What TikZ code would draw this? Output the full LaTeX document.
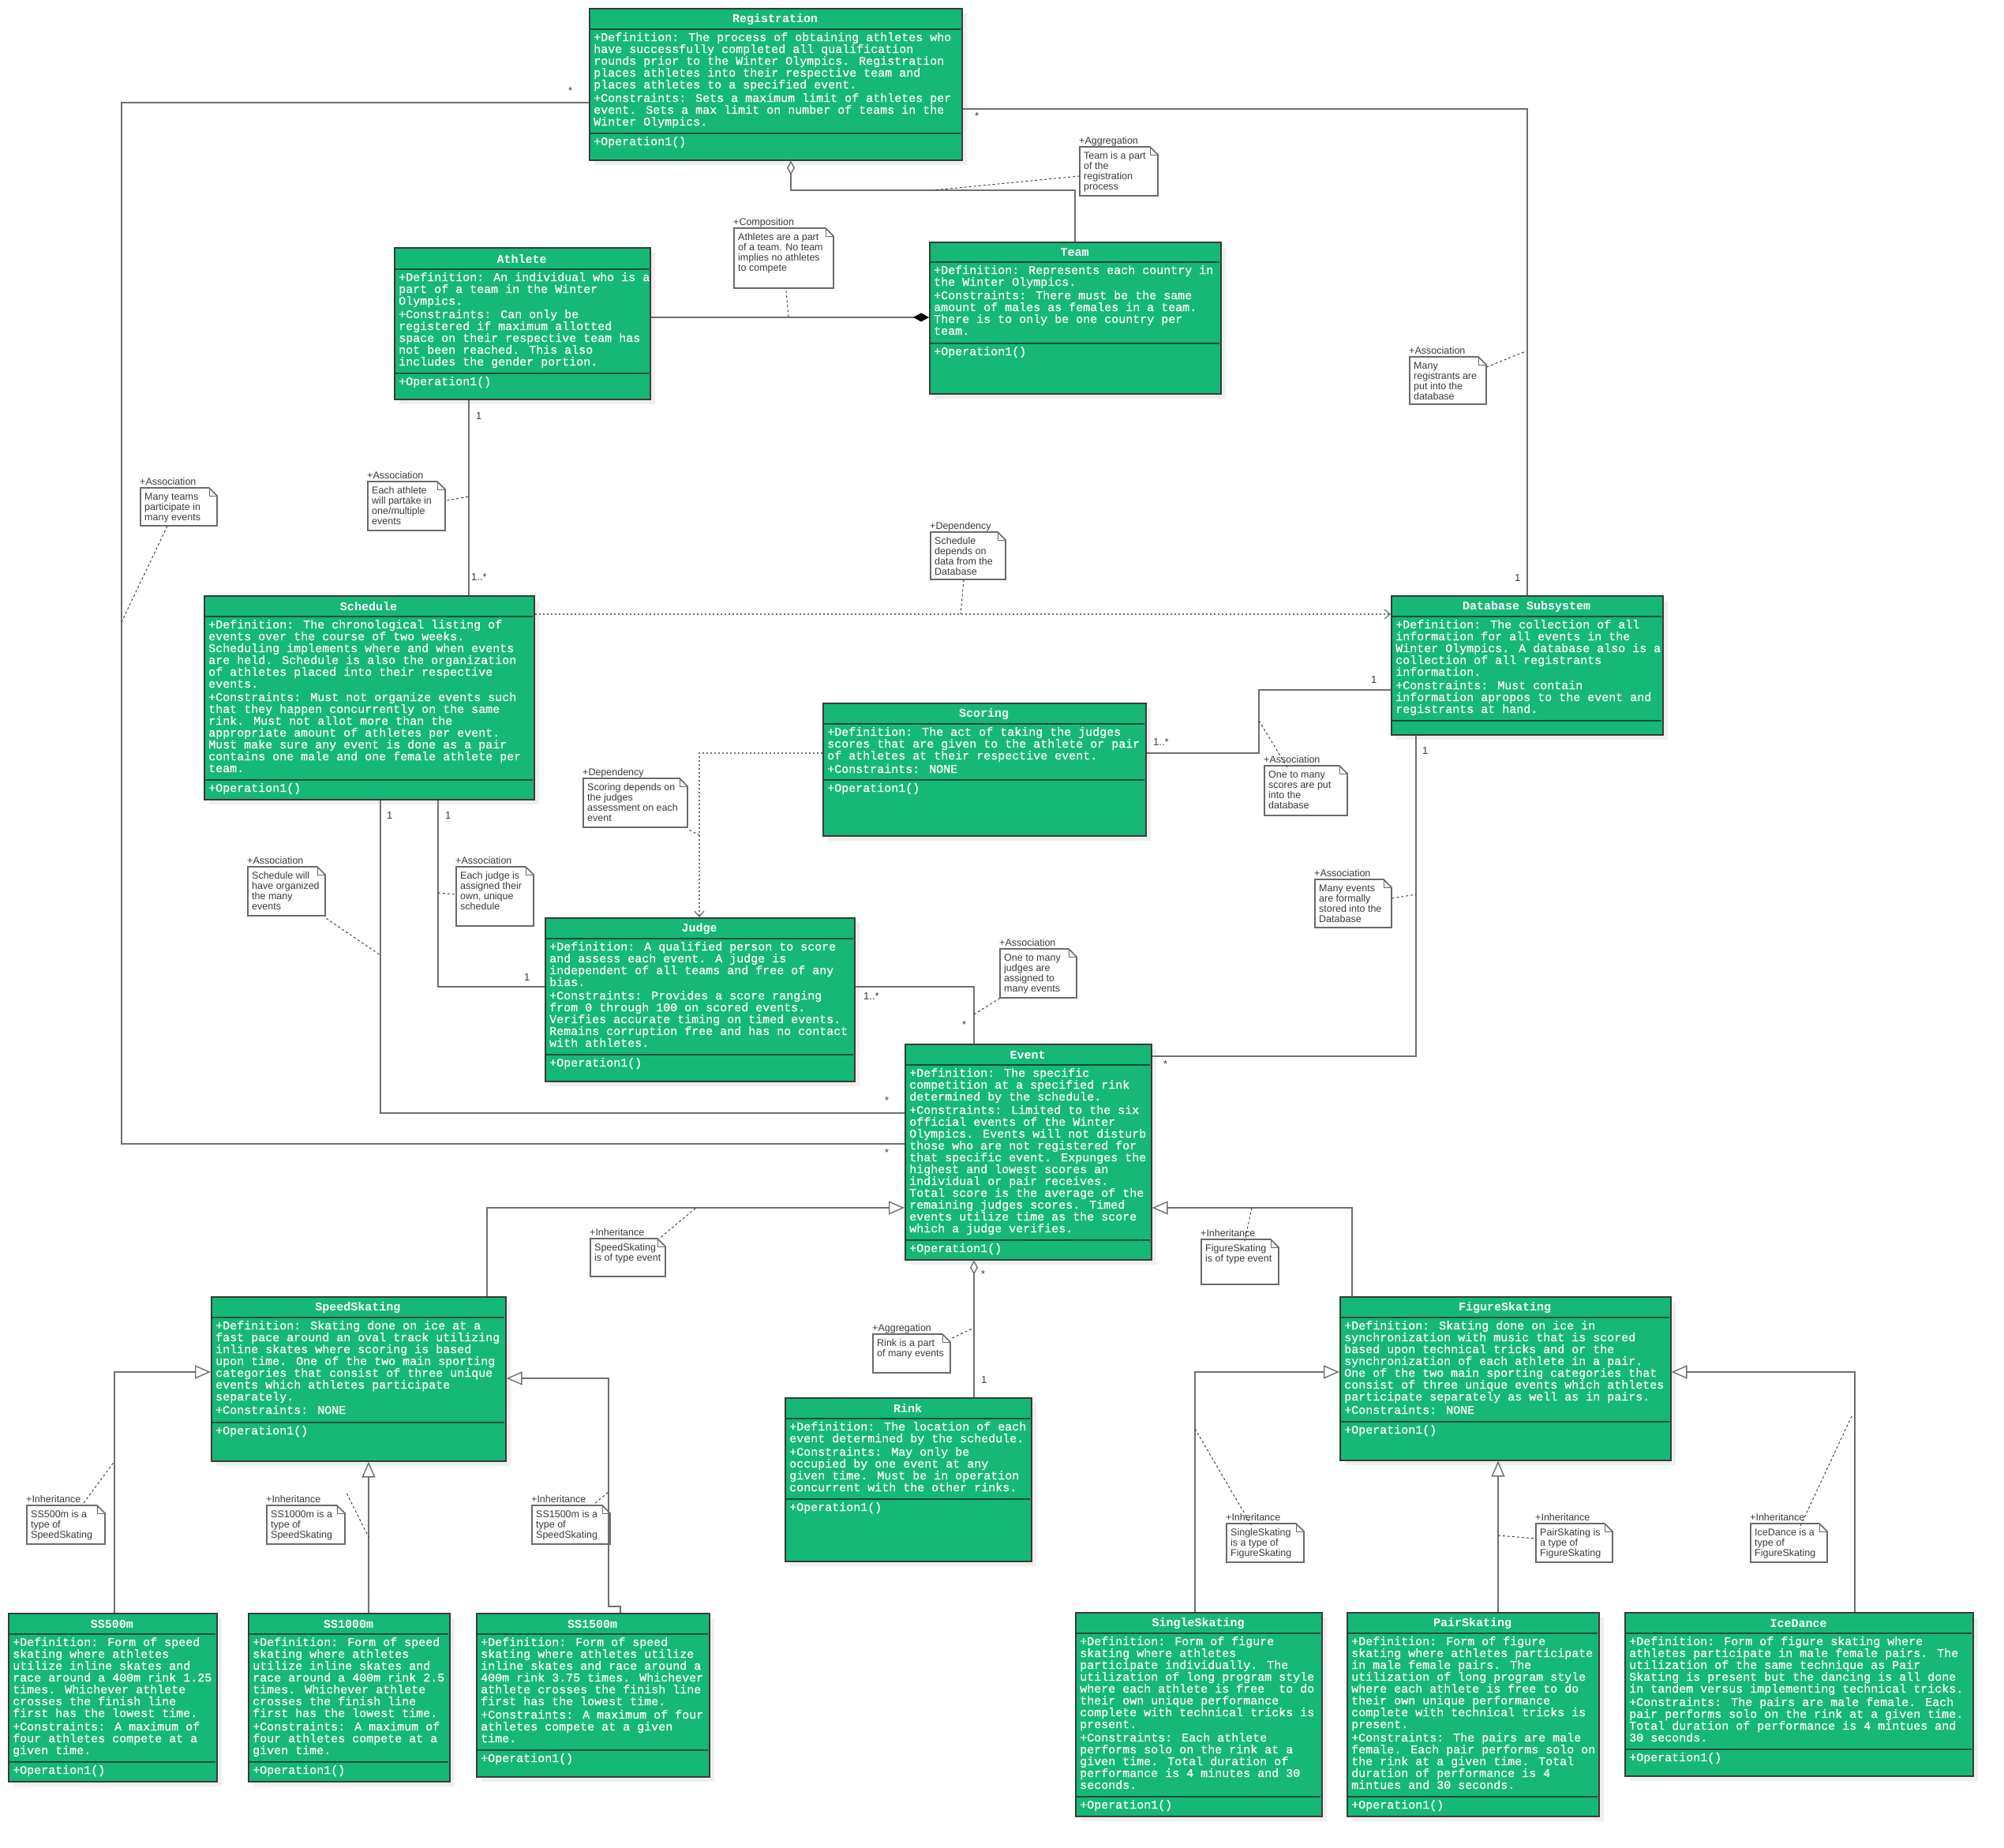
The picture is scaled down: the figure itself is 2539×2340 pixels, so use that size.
\documentclass[tikz,border=0pt]{standalone}
\usepackage{fontspec}
\setmainfont{Liberation Sans}
\newfontfamily\boxfont[FakeBold=0.7]{Liberation Mono}
\newfontfamily\boxtitlefont{Liberation Mono Bold}
\usetikzlibrary{arrows.meta}

\definecolor{umlgreen}{HTML}{16B877}
\definecolor{boxline}{HTML}{3A3A3A}
\definecolor{divline}{HTML}{124D34}
\definecolor{linec}{HTML}{6F6F6F}
\definecolor{noteborder}{HTML}{6A6A6A}
\definecolor{notetxt}{HTML}{3A3A3A}
\definecolor{shadowc}{HTML}{EFEFEF}

\tikzset{
  classbox/.style={draw=boxline, line width=1.6pt, fill=umlgreen, inner sep=0pt, rectangle},
  cdiv/.style={draw=divline, line width=2.6pt},
  ctitle/.style={text=white, font={\boxtitlefont\fontsize{15}{15}\selectfont}, inner sep=0pt},
  cbody/.style={text=white, font={\boxfont\fontsize{15}{15}\selectfont}, inner sep=0pt, align=left},
  notebox/.style={inner sep=0pt, rectangle},
  noteline/.style={draw=noteborder, line width=1.6pt, fill=white, line join=miter},
  notetext/.style={text=notetxt, font={\fontsize{12.5}{13}\selectfont}, inner sep=0pt, align=left},
  notelabel/.style={text=notetxt, font={\fontsize{12.5}{13}\selectfont}, inner sep=0pt},
  mult/.style={text=notetxt, font={\fontsize{13}{13}\selectfont}, inner sep=0pt, anchor=west},
  assoc/.style={draw=linec, line width=1.8pt},
  depend/.style={draw=linec, line width=1.8pt, dash pattern=on 2pt off 3pt},
  leader/.style={draw=black!80, line width=0.9pt, dash pattern=on 3pt off 3pt},
  inherit/.style={-{Triangle[length=20pt,width=17pt,fill=white,line width=1.4pt]}},
  aggr/.style={{Diamond[length=18pt,width=10pt,fill=white,line width=1.4pt]}-},
  compo/.style={-{Diamond[length=20pt,width=11pt,color=black]}},
  deparrow/.style={-{Straight Barb[length=7pt,width=12pt,line width=1.2pt]}},
}

\def\opstext{+Operation1()}

% class box: name, left, top, right, bottom, title rule y, operations rule y, title, attributes
\newcommand\umlclass[9]{%
  \fill[shadowc] (#2+7,#3+7) rectangle (#4+7,#5+7);
  \node[classbox, minimum width=#4-#2, minimum height=#5-#3, anchor=north west] (#1) at (#2,#3) {};
  \draw[cdiv] (#2+1,#6) -- (#4-1,#6);
  \draw[cdiv] (#2+1,#7) -- (#4-1,#7);
  \node[ctitle] (#1-title) at ({(#2+#4)/2},{(#3+#6)/2+1}) {#8};
  \node[cbody, anchor=north west] (#1-attr) at (#2+6,#6+4) {#9};
  \node[cbody, anchor=north west] (#1-ops) at (#2+6,#7+4) {\opstext};
}

% note: name, left, top, right, bottom, stereotype label, text
\newcommand\umlnote[7]{%
  \node[notebox, minimum width=#4-#2, minimum height=#5-#3, anchor=north west] (#1) at (#2,#3) {};
  \draw[noteline] (#2,#3) -- (#4-10,#3) -- (#4,#3+10) -- (#4,#5) -- (#2,#5) -- cycle;
  \draw[draw=noteborder, line width=1pt] (#4-10,#3) -- (#4-10,#3+10) -- (#4,#3+10);
  \node[notelabel, anchor=base west] (#1-label) at (#2-1,#3-4) {#6};
  \node[notetext, anchor=north west] (#1-text) at (#2+5,#3+6.5) {#7};
}

\begin{document}
\begin{tikzpicture}[x=1pt,y=-1pt]
\useasboundingbox (0,0) rectangle (2539,2340);
\fill[white] (0,0) rectangle (2539,2340);

% ---------- classes ----------
\umlclass{reg}{746}{10}{1218}{202}{37}{169}{Registration}{%
+Definition: The process of obtaining athletes who\\
have successfully completed all qualification\\
rounds prior to the Winter Olympics. Registration\\
places athletes into their respective team and\\
places athletes to a specified event.\\[2pt]
+Constraints: Sets a maximum limit of athletes per\\
event. Sets a max limit on number of teams in the\\
Winter Olympics.}

\umlclass{ath}{499}{313}{823}{505}{341}{473}{Athlete}{%
+Definition: An individual who is a\\
part of a team in the Winter\\
Olympics.\\[2pt]
+Constraints: Can only be\\
registered if maximum allotted\\
space on their respective team has\\
not been reached. This also\\
includes the gender portion.}

\umlclass{team}{1177}{306}{1546}{498}{332}{435}{Team}{%
+Definition: Represents each country in\\
the Winter Olympics.\\[2pt]
+Constraints: There must be the same\\
amount of males as females in a team.\\
There is to only be one country per\\
team.}

\umlclass{sched}{258}{754}{676}{1012}{781}{988}{Schedule}{%
+Definition: The chronological listing of\\
events over the course of two weeks.\\
Scheduling implements where and when events\\
are held. Schedule is also the organization\\
of athletes placed into their respective\\
events.\\[2pt]
+Constraints: Must not organize events such\\
that they happen concurrently on the same\\
rink. Must not allot more than the\\
appropriate amount of athletes per event.\\
Must make sure any event is done as a pair\\
contains one male and one female athlete per\\
team.}

\def\opstext{}
\umlclass{db}{1762}{754}{2106}{930}{781}{913}{Database Subsystem}{%
+Definition: The collection of all\\
information for all events in the\\
Winter Olympics. A database also is a\\
collection of all registrants\\
information.\\[2pt]
+Constraints: Must contain\\
information apropos to the event and\\
registrants at hand.}
\def\opstext{+Operation1()}

\umlclass{score}{1042}{890}{1451}{1058}{917}{988}{Scoring}{%
+Definition: The act of taking the judges\\
scores that are given to the athlete or pair\\
of athletes at their respective event.\\[2pt]
+Constraints: NONE}

\umlclass{judge}{690}{1162}{1082}{1369}{1189}{1336}{Judge}{%
+Definition: A qualified person to score\\
and assess each event. A judge is\\
independent of all teams and free of any\\
bias.\\[2pt]
+Constraints: Provides a score ranging\\
from 0 through 100 on scored events.\\
Verifies accurate timing on timed events.\\
Remains corruption free and has no contact\\
with athletes.}

\umlclass{event}{1146}{1322}{1458}{1595}{1349}{1571}{Event}{%
+Definition: The specific\\
competition at a specified rink\\
determined by the schedule.\\[2pt]
+Constraints: Limited to the six\\
official events of the Winter\\
Olympics. Events will not disturb\\
those who are not registered for\\
that specific event. Expunges the\\
highest and lowest scores an\\
individual or pair receives.\\
Total score is the average of the\\
remaining judges scores. Timed\\
events utilize time as the score\\
which a judge verifies.}

\umlclass{rink}{994}{1770}{1306}{1977}{1797}{1899}{Rink}{%
+Definition: The location of each\\
event determined by the schedule.\\[2pt]
+Constraints: May only be\\
occupied by one event at any\\
given time. Must be in operation\\
concurrent with the other rinks.}

\umlclass{speed}{267}{1642}{640}{1850}{1669}{1802}{SpeedSkating}{%
+Definition: Skating done on ice at a\\
fast pace around an oval track utilizing\\
inline skates where scoring is based\\
upon time. One of the two main sporting\\
categories that consist of three unique\\
events which athletes participate\\
separately.\\[2pt]
+Constraints: NONE}

\umlclass{figure}{1697}{1642}{2116}{1849}{1669}{1801}{FigureSkating}{%
+Definition: Skating done on ice in\\
synchronization with music that is scored\\
based upon technical tricks and or the\\
synchronization of each athlete in a pair.\\
One of the two main sporting categories that\\
consist of three unique events which athletes\\
participate separately as well as in pairs.\\[2pt]
+Constraints: NONE}

\umlclass{ss500}{10}{2043}{274}{2256}{2070}{2232}{SS500m}{%
+Definition: Form of speed\\
skating where athletes\\
utilize inline skates and\\
race around a 400m rink 1.25\\
times. Whichever athlete\\
crosses the finish line\\
first has the lowest time.\\[2pt]
+Constraints: A maximum of\\
four athletes compete at a\\
given time.}

\umlclass{ss1000}{314}{2043}{569}{2256}{2070}{2232}{SS1000m}{%
+Definition: Form of speed\\
skating where athletes\\
utilize inline skates and\\
race around a 400m rink 2.5\\
times. Whichever athlete\\
crosses the finish line\\
first has the lowest time.\\[2pt]
+Constraints: A maximum of\\
four athletes compete at a\\
given time.}

\umlclass{ss1500}{603}{2043}{898}{2250}{2070}{2217}{SS1500m}{%
+Definition: Form of speed\\
skating where athletes utilize\\
inline skates and race around a\\
400m rink 3.75 times. Whichever\\
athlete crosses the finish line\\
first has the lowest time.\\[2pt]
+Constraints: A maximum of four\\
athletes compete at a given\\
time.}

\umlclass{single}{1362}{2042}{1674}{2300}{2069}{2276}{SingleSkating}{%
+Definition: Form of figure\\
skating where athletes\\
participate individually. The\\
utilization of long program style\\
where each athlete is free\ \ to do\\
their own unique performance\\
complete with technical tricks is\\
present.\\[2pt]
+Constraints: Each athlete\\
performs solo on the rink at a\\
given time. Total duration of\\
performance is 4 minutes and 30\\
seconds.}

\umlclass{pair}{1706}{2042}{2025}{2300}{2069}{2276}{PairSkating}{%
+Definition: Form of figure\\
skating where athletes participate\\
in male female pairs. The\\
utilization of long program style\\
where each athlete is free to do\\
their own unique performance\\
complete with technical tricks is\\
present.\\[2pt]
+Constraints: The pairs are male\\
female. Each pair performs solo on\\
the rink at a given time. Total\\
duration of performance is 4\\
mintues and 30 seconds.}

\umlclass{ice}{2058}{2042}{2499}{2249}{2069}{2216}{IceDance}{%
+Definition: Form of figure skating where\\
athletes participate in male female pairs. The\\
utilization of the same technique as Pair\\
Skating is present but the dancing is all done\\
in tandem versus implementing technical tricks.\\[2pt]
+Constraints: The pairs are male female. Each\\
pair performs solo on the rink at a given time.\\
Total duration of performance is 4 mintues and\\
30 seconds.}

% ---------- notes ----------
\umlnote{nTeams}{178}{618}{275}{666}{+Association}{Many teams\\participate in\\many events}
\umlnote{nRegDb}{1786}{452}{1883}{512}{+Association}{Many\\registrants are\\put into the\\database}
\umlnote{nTeamReg}{1368}{186}{1467}{248}{+Aggregation}{Team is a part\\of the\\registration\\process}
\umlnote{nComp}{930}{289}{1056}{365}{+Composition}{Athletes are a part\\of a team. No team\\implies no athletes\\to compete}
\umlnote{nAthSched}{466}{610}{564}{672}{+Association}{Each athlete\\will partake in\\one/multiple\\events}
\umlnote{nSchedDb}{1179}{674}{1274}{734}{+Dependency}{Schedule\\depends on\\data from the\\Database}
\umlnote{nScoreDb}{1602}{970}{1707}{1033}{+Association}{One to many\\scores are put\\into the\\database}
\umlnote{nScoreJudge}{739}{986}{871}{1048}{+Dependency}{Scoring depends on\\the judges\\assessment on each\\event}
\umlnote{nSchedEvent}{314}{1098}{412}{1160}{+Association}{Schedule will\\have organized\\the many\\events}
\umlnote{nSchedJudge}{578}{1098}{676}{1173}{+Association}{Each judge is\\assigned their\\own, unique\\schedule}
\umlnote{nJudgeEvent}{1267}{1202}{1364}{1264}{+Association}{One to many\\judges are\\assigned to\\many events}
\umlnote{nDbEvent}{1666}{1114}{1763}{1175}{+Association}{Many events\\are formally\\stored into the\\Database}
\umlnote{nRink}{1106}{1690}{1204}{1739}{+Aggregation}{Rink is a part\\of many events}
\umlnote{nSpeed}{748}{1569}{843}{1617}{+Inheritance}{SpeedSkating\\is of type event}
\umlnote{nFigure}{1522}{1570}{1620}{1627}{+Inheritance}{FigureSkating\\is of type event}
\umlnote{nSS500}{34}{1907}{133}{1956}{+Inheritance}{SS500m is a\\type of\\SpeedSkating}
\umlnote{nSS1000}{338}{1907}{437}{1956}{+Inheritance}{SS1000m is a\\type of\\SpeedSkating}
\umlnote{nSS1500}{674}{1907}{773}{1956}{+Inheritance}{SS1500m is a\\type of\\SpeedSkating}
\umlnote{nSingle}{1554}{1930}{1652}{1979}{+Inheritance}{SingleSkating\\is a type of\\FigureSkating}
\umlnote{nPair}{1946}{1930}{2043}{1979}{+Inheritance}{PairSkating is\\a type of\\FigureSkating}
\umlnote{nIce}{2218}{1930}{2315}{1979}{+Inheritance}{IceDance is a\\type of\\FigureSkating}

% ---------- connectors ----------
% associations
\draw[assoc] (reg.west |- 0,130) -- (154,130) -- (154,1449) -- (event.west |- 0,1449);
\draw[assoc] (reg.east |- 0,138) -| (db.north);
\draw[assoc] (ath.south -| 594,0) -- (sched.north -| 594,0);
\draw[assoc] (score.east |- 0,954) -- (1595,954) -- (1595,874) -- (db.west |- 0,874);
\draw[assoc] (sched.south -| 482,0) -- (482,1410) -- (event.west |- 0,1410);
\draw[assoc] (sched.south -| 555,0) -- (555,1250) -- (judge.west |- 0,1250);
\draw[assoc] (judge.east |- 0,1250) -- (1234,1250) -- (event.north -| 1234,0);
\draw[assoc] (db.south -| 1794,0) -- (1794,1338) -- (event.east |- 0,1338);
% aggregation and composition
\draw[assoc, aggr] (reg.south -| 1002,0) -- (1002,241) -| (team.north);
\draw[assoc, aggr] (event.south -| 1234,0) -- (rink.north -| 1234,0);
\draw[assoc, compo] (ath.east |- 0,402) -- (team.west |- 0,402);
% dependencies
\draw[depend, deparrow] (sched.east |- 0,778) -- (db.west |- 0,778);
\draw[depend, deparrow] (score.west |- 0,954) -- (886,954) -- (judge.north -| 886,0);
% inheritance
\draw[assoc, inherit] (speed.north -| 617,0) -- (617,1530) -- (event.west |- 0,1530);
\draw[assoc, inherit] (figure.north -| 1713,0) -- (1713,1530) -- (event.east |- 0,1530);
\draw[assoc, inherit] (ss500.north -| 145,0) -- (145,1738) -- (speed.west |- 0,1738);
\draw[assoc, inherit] (ss1000.north -| 467,0) -- (speed.south -| 467,0);
\draw[assoc, inherit] (ss1500.north -| 786,0) -- (786,2035) -- (771,2035) -- (771,1746) -- (speed.east |- 0,1746);
\draw[assoc, inherit] (single.north -| 1514,0) -- (1514,1738) -- (figure.west |- 0,1738);
\draw[assoc, inherit] (pair.north -| 1898,0) -- (figure.south -| 1898,0);
\draw[assoc, inherit] (ice.north -| 2350,0) -- (2350,1738) -- (figure.east |- 0,1738);

% ---------- note leaders ----------
\coordinate (pTeams) at (154,788);
\coordinate (pRegDb) at (1933,445);
\coordinate (pTeamReg) at (1182,241);
\coordinate (pComp) at (999,402);
\coordinate (pAthSched) at (594,629);
\coordinate (pSchedDb) at (1217,778);
\coordinate (pScoreDb) at (1595,913);
\coordinate (pScoreJudge) at (886,1058);
\coordinate (pSchedEvent) at (482,1210);
\coordinate (pSchedJudge) at (555,1131);
\coordinate (pJudgeEvent) at (1234,1285);
\coordinate (pDbEvent) at (1794,1133);
\coordinate (pRink) at (1234,1682);
\coordinate (pSpeed) at (882,1530);
\coordinate (pFigure) at (1586,1530);
\coordinate (pSS500) at (145,1851);
\coordinate (pSS1000) at (467,1947);
\coordinate (pSS1500) at (771,1890);
\coordinate (pSingle) at (1514,1810);
\coordinate (pPair) at (1898,1945);
\coordinate (pIce) at (2346,1794);

\draw[leader] (nTeams.south west) ++(34,0) -- (pTeams);
\draw[leader] (nRegDb.north east) ++(0,13) -- (pRegDb);
\draw[leader] (nTeamReg.north west) ++(0,37) -- (pTeamReg);
\draw[leader] (nComp.south west) ++(66,3) -- (pComp);
\draw[leader] (nAthSched.north east) ++(2,24) -- (pAthSched);
\draw[leader] (nSchedDb.south west) ++(42,0) -- (pSchedDb);
\draw[leader] (pScoreDb) -- ([xshift=29pt,yshift=-2pt]nScoreDb.north west);
\draw[leader] (nScoreJudge.south east) ++(2,3) -- (pScoreJudge);
\draw[leader] (nSchedEvent.south east) ++(1,3) -- (pSchedEvent);
\draw[leader] (pSchedJudge) -- ([yshift=-35pt]nSchedJudge.north west);
\draw[leader] (nJudgeEvent.south west) -- (pJudgeEvent);
\draw[leader] (nDbEvent.north east) ++(0,24) -- (pDbEvent);
\draw[leader] (nRink.north east) ++(2,5) -- (pRink);
\draw[leader] (nSpeed.north east) ++(-6,-2) -- (pSpeed);
\draw[leader] (pFigure) -- ([xshift=55pt,yshift=-2pt]nFigure.north west);
\draw[leader] (nSS500.north west) ++(72,-3) -- (pSS500);
\draw[leader] (nSS1000.north east) ++(2,-15) -- (pSS1000);
\draw[leader] (nSS1500.north west) ++(80,-3) -- (pSS1500);
\draw[leader] (pSingle) -- ([xshift=32pt,yshift=-3pt]nSingle.north west);
\draw[leader] (pPair) -- ([yshift=-19pt]nPair.north west);
\draw[leader] (pIce) -- ([xshift=63pt,yshift=-3pt]nIce.north west);

% ---------- multiplicities ----------
\node[mult] (mRegEv1) at (720,115) {*};
\node[mult] (mRegEv2) at (1121,1460) {*};
\node[mult] (mRegDb1) at (1235,147) {*};
\node[mult] (mRegDb2) at (1919,732) {1};
\node[mult] (mAth1) at (603,527) {1};
\node[mult] (mAth2) at (597,731) {1..*};
\node[mult] (mSchEv1) at (490,1033) {1};
\node[mult] (mSchEv2) at (1121,1394) {*};
\node[mult] (mSchJu1) at (564,1033) {1};
\node[mult] (mSchJu2) at (664,1238) {1};
\node[mult] (mJuEv1) at (1094,1262) {1..*};
\node[mult] (mJuEv2) at (1219,1298) {*};
\node[mult] (mScDb1) at (1461,940) {1..*};
\node[mult] (mScDb2) at (1737,861) {1};
\node[mult] (mDbEv1) at (1802,951) {1};
\node[mult] (mDbEv2) at (1474,1348) {*};
\node[mult] (mRink1) at (1243,1614) {*};
\node[mult] (mRink2) at (1243,1748) {1};
\end{tikzpicture}
\end{document}
